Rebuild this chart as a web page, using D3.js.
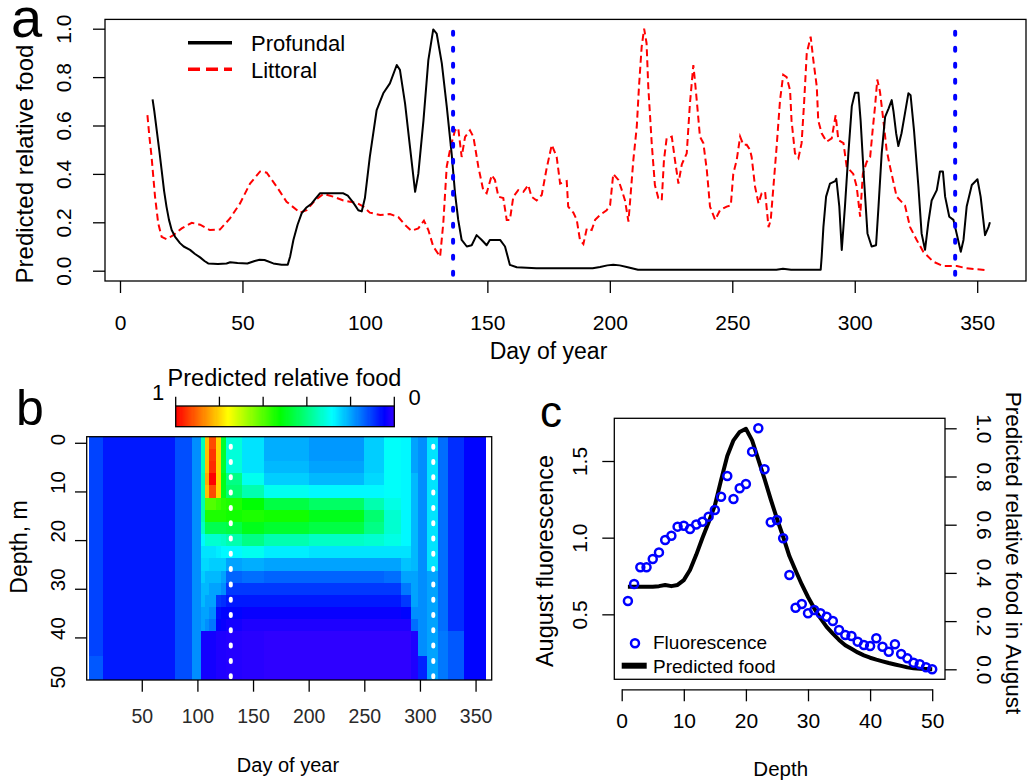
<!DOCTYPE html>
<html><head><meta charset="utf-8">
<script src="https://cdn.jsdelivr.net/npm/d3@7"></script>
<style>body{margin:0;background:#fff}svg{display:block;font-family:"Liberation Sans",Arial,Helvetica,sans-serif}</style>
</head><body><svg id="chart" width="1027" height="782"></svg>
<script>
// ---------------- DATA ----------------
// Panel a: predicted relative food by day of year
const profundal = [[13.3,0.708],[14,0.66],[15,0.58],[16,0.50],[17,0.416],[18,0.33],[19,0.264],[20,0.21],[21.1,0.168],[22.5,0.14],[24.5,0.114],[26,0.10],[28.6,0.086],[30.5,0.07],[32.7,0.055],[34.5,0.04],[36,0.03],[40,0.028],[43.5,0.03],[45,0.035],[48,0.032],[52,0.03],[55,0.04],[57,0.045],[59,0.044],[62.6,0.03],[66,0.025],[68.5,0.025],[69.5,0.06],[70.8,0.127],[72.5,0.19],[74.2,0.238],[76,0.26],[78.3,0.278],[80,0.30],[81.7,0.32],[87,0.32],[91.2,0.32],[93,0.31],[94.6,0.29],[96,0.27],[97.3,0.25],[98.7,0.245],[100,0.30],[102,0.47],[104.8,0.664],[107.5,0.733],[110.2,0.774],[113,0.85],[114.3,0.83],[116.4,0.69],[118.4,0.512],[120.5,0.326],[121.8,0.40],[123.9,0.62],[125.9,0.87],[127.9,0.997],[129.3,0.98],[131.4,0.857],[133.4,0.68],[135.4,0.485],[136.8,0.32],[138.1,0.21],[139.5,0.127],[141.6,0.10],[143.6,0.105],[145.6,0.147],[147.7,0.127],[149.7,0.105],[151,0.127],[155.2,0.127],[157.2,0.10],[159.2,0.024],[162,0.014],[170,0.01],[181,0.01],[193,0.01],[196,0.015],[199,0.022],[201.4,0.025],[204,0.022],[206.9,0.015],[211.5,0.004],[230,0.004],[268,0.004],[270.7,0.008],[274,0.004],[286.1,0.004],[286.5,0.058],[287.2,0.18],[288.3,0.306],[289.9,0.36],[292,0.37],[292.5,0.38],[293.7,0.265],[294.7,0.086],[296,0.265],[297.4,0.485],[298.8,0.68],[300.1,0.735],[301.5,0.735],[302.4,0.62],[303.8,0.375],[305.2,0.154],[306.9,0.10],[308.7,0.105],[309.7,0.265],[311,0.485],[312.4,0.636],[313.8,0.67],[315.1,0.705],[315.8,0.66],[316.9,0.568],[317.8,0.515],[319.1,0.568],[320.5,0.65],[321.9,0.733],[322.8,0.725],[324.2,0.58],[326,0.347],[327.3,0.154],[328.7,0.086],[330,0.196],[331.4,0.29],[333.5,0.333],[334.8,0.41],[336,0.41],[336.9,0.306],[338.6,0.223],[340.3,0.21],[341.6,0.154],[343.3,0.078],[344.4,0.127],[345.7,0.265],[347.8,0.354],[350.1,0.378],[351.4,0.306],[353.2,0.147],[354.6,0.18],[355.2,0.2]];
const littoral = [[11.2,0.643],[12,0.554],[12.9,0.47],[14.3,0.306],[15.6,0.196],[17,0.14],[19,0.13],[21.8,0.147],[25.2,0.175],[29.3,0.198],[32.7,0.19],[36.7,0.168],[40.8,0.17],[44.9,0.216],[49,0.278],[53.1,0.36],[57.2,0.41],[59.9,0.405],[64,0.347],[68,0.285],[73.5,0.24],[76.2,0.25],[79.6,0.29],[83,0.317],[87.1,0.306],[91.2,0.29],[96.6,0.28],[99.4,0.265],[102,0.24],[106.2,0.23],[110.2,0.234],[113.6,0.222],[116.4,0.189],[119,0.165],[121.8,0.175],[124.1,0.207],[125.9,0.168],[127.9,0.10],[130.7,0.058],[132,0.196],[133.4,0.43],[135,0.512],[136.8,0.58],[138.1,0.59],[139.5,0.47],[140.9,0.553],[142.9,0.58],[144.3,0.553],[146.3,0.43],[148.3,0.333],[149.7,0.32],[151.8,0.395],[153.1,0.375],[154.5,0.306],[156.5,0.30],[157.9,0.21],[159.2,0.21],[160.6,0.306],[162.6,0.333],[164.7,0.326],[166.7,0.354],[168,0.306],[170.1,0.29],[172.2,0.313],[174.2,0.423],[176.3,0.52],[178.3,0.47],[179.7,0.36],[182.4,0.37],[183,0.265],[185.1,0.24],[186.5,0.21],[187.8,0.127],[189.2,0.11],[190.6,0.175],[192.6,0.168],[194,0.21],[196,0.23],[198.7,0.25],[200.1,0.27],[201.4,0.40],[203.5,0.375],[204.9,0.333],[206.2,0.29],[207.6,0.203],[208.3,0.29],[209.6,0.457],[211,0.595],[211.9,0.76],[213,0.925],[214,1.0],[215,0.94],[215.7,0.76],[217.1,0.527],[218.4,0.354],[219.8,0.30],[221.2,0.29],[222.1,0.457],[223.2,0.547],[225.3,0.554],[226.6,0.457],[228,0.36],[229.4,0.44],[231.4,0.485],[232.7,0.69],[234.1,0.85],[234.8,0.78],[235.7,0.68],[236.8,0.554],[238.2,0.527],[239.6,0.416],[240.9,0.265],[243,0.21],[245,0.25],[247.7,0.265],[249.4,0.27],[250.4,0.40],[251.8,0.457],[253.2,0.554],[254.5,0.52],[255.9,0.52],[257.2,0.50],[257.9,0.47],[259.3,0.347],[260.7,0.278],[262,0.32],[263.4,0.326],[264.8,0.18],[265.7,0.21],[266.8,0.347],[268.1,0.512],[269.5,0.705],[270.8,0.81],[272.2,0.80],[273.6,0.745],[274.2,0.62],[275.6,0.485],[277,0.465],[278.3,0.527],[279.3,0.69],[280.4,0.898],[282,0.967],[283.1,0.87],[284.5,0.76],[285.1,0.62],[286.5,0.568],[288.5,0.533],[290.6,0.547],[292.2,0.643],[293.3,0.54],[295.4,0.527],[296.7,0.43],[299.4,0.40],[300.8,0.347],[302.2,0.223],[303.3,0.40],[304.9,0.45],[306.3,0.47],[307.3,0.58],[308.3,0.68],[309.2,0.79],[310.3,0.74],[311.7,0.62],[313,0.50],[314.4,0.43],[317.1,0.306],[320.5,0.27],[322.6,0.18],[325.3,0.127],[328,0.078],[332.1,0.037],[336.2,0.019],[341.7,0.019],[345.7,0.01],[353.2,0.003]];
const markDaysA = [136, 341];
const dayTicksA = [0, 50, 100, 150, 200, 250, 300, 350];
const foodTicksA = [0, 0.2, 0.4, 0.6, 0.8, 1.0];

// Panel b: heatmap (depth rows x day bins)
const hmDayEdges = [3,15,80,95,103,107,110,117,121,126,140,160,200,250,268,283,292,298,306,316,325,340,359];
const hmDepths = [0,2.5,5,7.5,10,12.5,15,17.5,20,22.5,25,27.5,30,32.5,35,37.5,40,42.5,45,47.5];
const hmValues = [
 [0.11,0.07,0.12,0.18,0.35,0.82,0.93,0.80,0.48,0.32,0.26,0.21,0.19,0.24,0.29,0.28,0.20,0.18,0.26,0.15,0.09,0.05],
 [0.11,0.07,0.12,0.18,0.35,0.82,0.95,0.80,0.48,0.32,0.26,0.21,0.19,0.24,0.29,0.28,0.20,0.18,0.26,0.15,0.09,0.05],
 [0.11,0.07,0.12,0.18,0.35,0.82,0.96,0.80,0.48,0.32,0.26,0.22,0.20,0.24,0.29,0.28,0.20,0.18,0.26,0.15,0.09,0.05],
 [0.11,0.07,0.12,0.18,0.36,0.84,1.00,0.80,0.50,0.40,0.30,0.24,0.22,0.25,0.29,0.28,0.22,0.18,0.26,0.15,0.09,0.05],
 [0.11,0.07,0.12,0.18,0.36,0.82,0.93,0.80,0.50,0.42,0.36,0.30,0.28,0.28,0.29,0.28,0.22,0.18,0.26,0.15,0.09,0.05],
 [0.11,0.07,0.12,0.18,0.36,0.60,0.60,0.58,0.56,0.55,0.52,0.46,0.43,0.36,0.31,0.28,0.22,0.18,0.26,0.15,0.09,0.05],
 [0.11,0.07,0.12,0.18,0.36,0.55,0.55,0.55,0.55,0.54,0.55,0.54,0.50,0.42,0.33,0.28,0.22,0.18,0.26,0.15,0.09,0.05],
 [0.11,0.07,0.12,0.18,0.34,0.45,0.45,0.45,0.45,0.46,0.50,0.48,0.46,0.40,0.33,0.28,0.22,0.18,0.26,0.15,0.09,0.05],
 [0.11,0.07,0.12,0.18,0.28,0.33,0.33,0.33,0.34,0.36,0.40,0.36,0.34,0.33,0.31,0.28,0.22,0.18,0.26,0.15,0.09,0.05],
 [0.11,0.07,0.12,0.18,0.26,0.26,0.26,0.27,0.28,0.28,0.30,0.27,0.26,0.26,0.26,0.26,0.22,0.18,0.26,0.15,0.09,0.05],
 [0.11,0.07,0.12,0.18,0.25,0.25,0.24,0.24,0.24,0.20,0.21,0.20,0.20,0.20,0.20,0.23,0.22,0.18,0.26,0.15,0.09,0.05],
 [0.11,0.07,0.12,0.18,0.24,0.22,0.22,0.22,0.20,0.14,0.15,0.14,0.14,0.14,0.15,0.20,0.20,0.18,0.20,0.15,0.09,0.05],
 [0.11,0.07,0.12,0.18,0.22,0.22,0.20,0.20,0.18,0.10,0.10,0.10,0.10,0.10,0.10,0.16,0.20,0.18,0.20,0.15,0.09,0.05],
 [0.11,0.07,0.12,0.18,0.22,0.20,0.20,0.10,0.09,0.07,0.07,0.07,0.07,0.07,0.07,0.10,0.20,0.18,0.20,0.15,0.09,0.05],
 [0.11,0.07,0.12,0.18,0.20,0.20,0.18,0.06,0.05,0.05,0.04,0.04,0.04,0.04,0.04,0.05,0.18,0.18,0.20,0.15,0.09,0.05],
 [0.11,0.07,0.12,0.18,0.20,0.18,0.16,0.05,0.04,0.03,0.02,0.02,0.02,0.02,0.02,0.02,0.15,0.18,0.20,0.15,0.09,0.05],
 [0.11,0.07,0.12,0.18,0.03,0.03,0.03,0.02,0.02,0.015,0.01,0.005,0.005,0.005,0.005,0.005,0.02,0.18,0.20,0.16,0.13,0.05],
 [0.11,0.07,0.12,0.18,0.03,0.03,0.03,0.02,0.02,0.015,0.01,0.005,0.005,0.005,0.005,0.005,0.02,0.18,0.20,0.16,0.13,0.05],
 [0.13,0.07,0.12,0.18,0.03,0.03,0.03,0.02,0.02,0.015,0.01,0.005,0.005,0.005,0.005,0.005,0.02,0.08,0.20,0.16,0.13,0.05],
 [0.13,0.07,0.12,0.18,0.03,0.03,0.03,0.02,0.02,0.015,0.01,0.005,0.005,0.005,0.005,0.005,0.02,0.08,0.20,0.16,0.13,0.05]
];
const depthStep = 2.5;
const markDaysB = [130, 312];
const dayTicksB = [50, 100, 150, 200, 250, 300, 350];
const depthTicksB = [0, 10, 20, 30, 40, 50];
const colorbarTicks = [0, 0.2, 0.4, 0.6, 0.8, 1.0];

// Panel c: August profiles by depth
const depthC = d3.range(1, 51);
const fluorescence = [0.587,0.698,0.807,0.807,0.861,0.904,0.985,1.013,1.072,1.078,1.057,1.086,1.104,1.137,1.181,1.267,1.402,1.252,1.322,1.350,1.561,1.714,1.446,1.100,1.115,0.996,0.757,0.543,0.567,0.507,0.528,0.507,0.485,0.457,0.398,0.365,0.359,0.322,0.300,0.294,0.344,0.289,0.256,0.305,0.241,0.213,0.185,0.174,0.155,0.142];
const predictedFood = [0.343,0.343,0.343,0.343,0.343,0.345,0.350,0.345,0.350,0.370,0.412,0.475,0.545,0.610,0.680,0.785,0.885,0.950,0.985,0.998,0.950,0.870,0.790,0.705,0.625,0.550,0.470,0.410,0.352,0.300,0.253,0.212,0.176,0.148,0.122,0.100,0.085,0.070,0.058,0.048,0.040,0.033,0.026,0.020,0.014,0.008,0.004,0.002,0.001,0.0];
const depthTicksC = [0, 10, 20, 30, 40, 50];
const fluorTicksC = [0.5, 1.0, 1.5];
const foodTicksC = [0, 0.2, 0.4, 0.6, 0.8, 1.0];

// ---------------- DRAWING ----------------
const svg = d3.select("#chart");
const FONT = '"Liberation Sans", Arial, Helvetica, sans-serif';
const color = v => d3.hsl(252 * (1 - v), 1, 0.5).toString();

function styleAxis(g, size, fill) {
  g.attr("font-family", FONT).attr("font-size", size);
  g.selectAll(".tick line").attr("stroke", "#000").attr("stroke-width", 1.3);
  g.selectAll("text").attr("fill", fill || "#000");
}
function txt(parent, x, y, s, size, opts = {}) {
  const t = parent.append("text").attr("x", x).attr("y", y).text(s)
    .attr("font-size", size).attr("font-family", FONT).attr("fill", opts.fill || "#000")
    .attr("text-anchor", opts.anchor || "start");
  if (opts.rotate) t.attr("transform", `rotate(${opts.rotate},${x},${y})`);
  return t;
}

// ===== Panel a =====
const gA = svg.append("g");
const xA = d3.scaleLinear().domain([0, 350]).range([120, 977.2]);
const yA = d3.scaleLinear().domain([0, 1]).range([270.7, 28.7]);
const boxA = {x0: 105, x1: 1026, y0: 19.4, y1: 281};

const lineA = d3.line().x(d => xA(d[0])).y(d => yA(d[1]));
gA.append("path").datum(littoral).attr("d", lineA).attr("fill", "none")
  .attr("stroke", "#ff0000").attr("stroke-width", 2).attr("stroke-dasharray", "7,4");
gA.append("path").datum(profundal).attr("d", lineA).attr("fill", "none")
  .attr("stroke", "#000").attr("stroke-width", 2).attr("stroke-linejoin", "round");
gA.selectAll("line.mark").data(markDaysA).join("line")
  .attr("x1", d => xA(d)).attr("x2", d => xA(d)).attr("y1", boxA.y0).attr("y2", boxA.y1)
  .attr("stroke", "#0000ff").attr("stroke-width", 4).attr("stroke-linecap", "round")
  .attr("stroke-dasharray", "3,13").attr("stroke-dashoffset", 3.6);

gA.append("rect").attr("x", boxA.x0).attr("y", boxA.y0).attr("width", boxA.x1 - boxA.x0)
  .attr("height", boxA.y1 - boxA.y0).attr("fill", "none").attr("stroke", "#000").attr("stroke-width", 1.3);

const axA = gA.append("g").attr("transform", `translate(0,${boxA.y1})`)
  .call(d3.axisBottom(xA).tickValues(dayTicksA).tickSize(12).tickSizeOuter(0));
axA.select(".domain").remove();
styleAxis(axA, 21);
axA.selectAll("text").attr("y", 49).attr("dy", null);

const ayA = gA.append("g").attr("transform", `translate(${boxA.x0},0)`)
  .call(d3.axisLeft(yA).tickValues(foodTicksA).tickSize(12).tickSizeOuter(0).tickFormat(d3.format(".1f")));
ayA.select(".domain").remove();
styleAxis(ayA, 21);
ayA.selectAll("text").attr("transform", "rotate(-90)").attr("x", 0).attr("y", -34)
  .attr("dy", null).attr("text-anchor", "middle");

txt(gA, 548.5, 359, "Day of year", 23, {anchor: "middle"});
txt(gA, 33, 164, "Predicted relative food", 24, {anchor: "middle", rotate: -90});
txt(gA, 11, 37, "a", 56);

// legend a
gA.append("line").attr("x1", 188).attr("x2", 232).attr("y1", 42.7).attr("y2", 42.7)
  .attr("stroke", "#000").attr("stroke-width", 3.5);
gA.append("line").attr("x1", 188).attr("x2", 232).attr("y1", 69.3).attr("y2", 69.3)
  .attr("stroke", "#ff0000").attr("stroke-width", 3.5).attr("stroke-dasharray", "12,6");
txt(gA, 251, 51, "Profundal", 22);
txt(gA, 251, 77.5, "Littoral", 22);

// ===== Panel b =====
const gB = svg.append("g");
const xB = d3.scaleLinear().domain([0.5, 364.5]).range([86.7, 491.7]);
const yB = d3.scaleLinear().domain([-1.25, 48.75]).range([436.7, 680]);
const cells = [];
hmValues.forEach((row, r) => row.forEach((v, c) => cells.push({
  d: hmDepths[r], x0: hmDayEdges[c], x1: hmDayEdges[c + 1], v})));
gB.selectAll("rect.cell").data(cells).join("rect").attr("class", "cell")
  .attr("x", d => xB(d.x0)).attr("width", d => xB(d.x1) - xB(d.x0))
  .attr("y", d => yB(d.d - depthStep / 2)).attr("height", d => yB(d.d + depthStep / 2) - yB(d.d - depthStep / 2))
  .attr("fill", d => color(d.v)).attr("shape-rendering", "crispEdges");

gB.selectAll("line.mark").data(markDaysB).join("line")
  .attr("x1", d => xB(d)).attr("x2", d => xB(d)).attr("y1", 436.7).attr("y2", 680)
  .attr("stroke", "#fff").attr("stroke-width", 4).attr("stroke-linecap", "round")
  .attr("stroke-dasharray", "2,13.3").attr("stroke-dashoffset", 6.3);

gB.append("rect").attr("x", 86.7).attr("y", 436.7).attr("width", 405).attr("height", 243.3)
  .attr("fill", "none").attr("stroke", "#000").attr("stroke-width", 1.3);

const axB = gB.append("g").attr("transform", "translate(0,680)")
  .call(d3.axisBottom(xB).tickValues(dayTicksB).tickSize(11.7).tickSizeOuter(0));
axB.select(".domain").remove();
styleAxis(axB, 19.5, "#2a2a2a");
axB.selectAll("text").attr("y", 43).attr("dy", null);

const ayB = gB.append("g").attr("transform", "translate(86.7,0)")
  .call(d3.axisLeft(yB).tickValues(depthTicksB).tickSize(11.7).tickSizeOuter(0));
ayB.select(".domain").remove();
styleAxis(ayB, 20.5);
ayB.selectAll(".tick").filter(d => d > 48.75).select("line").remove();
ayB.selectAll("text").attr("transform", "rotate(-90)").attr("x", -2).attr("y", -21.7)
  .attr("dy", null).attr("text-anchor", "start");

txt(gB, 288, 772, "Day of year", 20, {anchor: "middle"});
txt(gB, 27, 547, "Depth, m", 23, {anchor: "middle", rotate: -90});
txt(gB, 16, 425, "b", 50);

// colorbar
const cb = d3.scaleLinear().domain([1, 0]).range([175.7, 394.3]);
const cbSteps = d3.range(0, 1, 0.005);
gB.selectAll("rect.cb").data(cbSteps).join("rect").attr("class", "cb")
  .attr("x", d => cb(d + 0.005)).attr("width", d => cb(d) - cb(d + 0.005) + 0.4)
  .attr("y", 406).attr("height", 20.7).attr("fill", d => color(d + 0.0025))
  .attr("shape-rendering", "crispEdges");
gB.append("rect").attr("x", 175.7).attr("y", 406).attr("width", 218.6).attr("height", 20.7)
  .attr("fill", "none").attr("stroke", "#000").attr("stroke-width", 1.3);
gB.selectAll("line.cbt").data(colorbarTicks).join("line")
  .attr("x1", d => cb(d)).attr("x2", d => cb(d)).attr("y1", 396.7).attr("y2", 406)
  .attr("stroke", "#000").attr("stroke-width", 1.3);
txt(gB, 158, 400, "1", 22, {anchor: "middle"});
txt(gB, 414.5, 405, "0", 22, {anchor: "middle"});
txt(gB, 284.5, 386, "Predicted relative food", 23.5, {anchor: "middle"});

// ===== Panel c =====
const gC = svg.append("g");
const xC = d3.scaleLinear().domain([0, 50]).range([621.7, 932.2]);
const yL = d3.scaleLinear().domain([0, 1.5]).range([691, 461]);
const yR = d3.scaleLinear().domain([0, 1]).range([669.3, 428.3]);
const boxC = {x0: 614.3, x1: 945, y0: 418.3, y1: 679.3};

gC.append("path").datum(predictedFood.map((v, i) => [depthC[i], v]))
  .attr("d", d3.line().x(d => xC(d[0])).y(d => yR(d[1])))
  .attr("fill", "none").attr("stroke", "#000").attr("stroke-width", 4).attr("stroke-linejoin", "round");
gC.selectAll("circle.fl").data(fluorescence).join("circle").attr("class", "fl")
  .attr("cx", (d, i) => xC(depthC[i])).attr("cy", d => yL(d)).attr("r", 4)
  .attr("fill", "none").attr("stroke", "#0000ff").attr("stroke-width", 2.5);

gC.append("rect").attr("x", boxC.x0).attr("y", boxC.y0).attr("width", boxC.x1 - boxC.x0)
  .attr("height", boxC.y1 - boxC.y0).attr("fill", "none").attr("stroke", "#000").attr("stroke-width", 1.3);

const axC = gC.append("g").attr("transform", "translate(0,689.3)")
  .call(d3.axisBottom(xC).tickValues(depthTicksC).tickSize(12).tickSizeOuter(0));
axC.select(".domain").attr("stroke", "#000").attr("stroke-width", 1.3);
styleAxis(axC, 21);
axC.selectAll("text").attr("y", 39).attr("dy", null);

const ayL = gC.append("g").attr("transform", `translate(${boxC.x0},0)`)
  .call(d3.axisLeft(yL).tickValues(fluorTicksC).tickSize(12).tickSizeOuter(0).tickFormat(d3.format(".1f")));
ayL.select(".domain").remove();
styleAxis(ayL, 21);
ayL.selectAll("text").attr("transform", "rotate(-90)").attr("x", 0).attr("y", -27.3)
  .attr("dy", null).attr("text-anchor", "middle");

const ayR = gC.append("g").attr("transform", `translate(${boxC.x1},0)`)
  .call(d3.axisRight(yR).tickValues(foodTicksC).tickSize(11.7).tickSizeOuter(0).tickFormat(d3.format(".1f")));
ayR.select(".domain").remove();
styleAxis(ayR, 21);
ayR.selectAll("text").attr("transform", "rotate(90)").attr("x", 0).attr("y", -31.7)
  .attr("dy", null).attr("text-anchor", "middle");

txt(gC, 780.7, 776, "Depth", 20.5, {anchor: "middle"});
txt(gC, 553, 561, "August fluorescence", 23.4, {anchor: "middle", rotate: -90});
txt(gC, 1006, 553, "Predicted relative food in August", 22.5, {anchor: "middle", rotate: 90});
txt(gC, 540, 427, "c", 44);

// legend c
gC.append("circle").attr("cx", 635).attr("cy", 643.3).attr("r", 4)
  .attr("fill", "none").attr("stroke", "#0000ff").attr("stroke-width", 2.5);
gC.append("line").attr("x1", 621.7).attr("x2", 646.7).attr("y1", 665.7).attr("y2", 665.7)
  .attr("stroke", "#000").attr("stroke-width", 6);
txt(gC, 653, 649.3, "Fluorescence", 19);
txt(gC, 653, 672.5, "Predicted food", 19);
</script></body></html>
